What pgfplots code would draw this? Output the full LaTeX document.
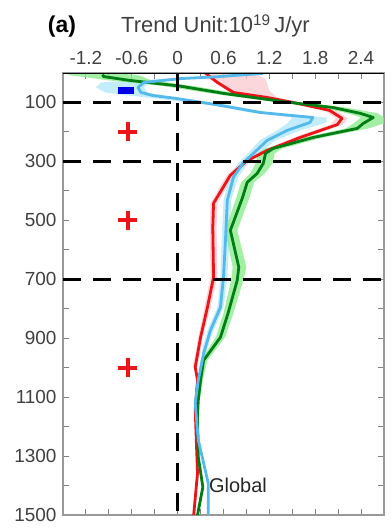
\documentclass[border=0pt]{standalone}
\usepackage{pgfplots}
\pgfplotsset{compat=1.18}
\usepackage{fontspec}
\setmainfont{Liberation Sans}
\definecolor{cgreen}{RGB}{0,125,20}
\definecolor{cred}{RGB}{235,20,25}
\definecolor{ccyan}{RGB}{85,185,235}
\definecolor{lgreen}{RGB}{140,235,140}
\definecolor{lpink}{RGB}{250,200,205}
\definecolor{lcyan}{RGB}{180,232,250}
\definecolor{cblue}{RGB}{0,0,230}
\begin{document}
\begin{tikzpicture}
\path[use as bounding box] (-63bp,-16bp) rectangle (329bp,515bp);
\begin{axis}[
  scale only axis, width=321bp, height=442bp,
  xmin=-1.5, xmax=2.7, ymin=0, ymax=1500, y dir=reverse,
  xtick={-1.2,-0.6,0,0.6,1.2,1.8,2.4},
  xticklabels={-1.2,-0.6,0,0.6,1.2,1.8,2.4},
  minor xtick={-1.5,-0.9,-0.3,0.3,0.9,1.5,2.1,2.7},
  xticklabel pos=upper,
  ytick={100,300,500,700,900,1100,1300,1500},
  yticklabels={100,300,500,700,900,1100,1300,1500},
  minor ytick={200,400,600,800,1000,1200,1400},
  tick align=inside,
  major tick length=6bp, minor tick length=6bp,
  tick style={gray, line width=1bp},
  axis line style={gray!80, line width=1.5bp},
  ticklabel style={font=\fontsize{19}{19}\selectfont, text=black!75},
  xticklabel style={yshift=5bp},
  yticklabel style={xshift=-3bp},
  clip mode=individual,
]
% bands
\addplot[draw=none, fill=lpink, fill opacity=0.75] coordinates {
(1.0,2) (1.15,20) (1.2,60) (1.3,83) (1.6,100) (2.08,127) (2.23,154) (2.16,175) (1.68,219) (1.24,263) (0.97,297) (0.74,347) (0.52,442) (0.51,524) (0.52,693) (0.43,795) (0.33,897) (0.26,998)
(0.2,998) (0.27,897) (0.35,795) (0.43,693) (0.42,524) (0.43,442) (0.64,347) (0.85,297) (1.1,263) (1.52,219) (2.0,175) (2.07,154) (1.92,127) (1.45,100) (1.1,83) (0.68,66) (0.48,32) (0.33,2)} -- cycle;
\addplot[draw=none, fill=lcyan, fill opacity=0.8] coordinates {
(1.2,1) (0.1,19) (-0.38,32) (-0.44,49) (-0.4,66) (-0.2,76) (0.08,86) (0.65,108) (1.2,134) (1.95,151) (1.95,168) (1.6,195) (1.28,229) (1.07,273) (0.92,307) (0.79,354) (0.7,432) (0.68,544) (0.65,693) (0.6,795) (0.47,873) (0.37,951)
(0.31,951) (0.39,873) (0.52,795) (0.56,693) (0.58,544) (0.6,432) (0.68,354) (0.79,307) (0.92,273) (1.07,229) (1.3,195) (1.45,168) (1.5,151) (0.95,134) (0.4,108) (-0.3,86) (-0.65,76) (-0.95,66) (-1.07,49) (-1.0,32) (-0.1,19) (1.0,1)} -- cycle;
\addplot[draw=none, fill=lgreen, fill opacity=0.8] coordinates {
(-0.7,3) (-0.5,8) (-0.35,25) (0.2,44) (0.8,70) (1.5,97) (2.2,117) (2.62,137) (2.7,151) (2.7,171) (2.5,188) (1.9,219) (1.37,256) (1.27,273) (1.24,307) (1.14,341) (1.0,371) (0.94,422) (0.78,534) (0.9,659) (0.86,703) (0.73,815) (0.62,897) (0.39,975) (0.33,1042) (0.29,1110)
(0.25,1110) (0.27,1042) (0.3,975) (0.5,897) (0.6,815) (0.7,703) (0.72,659) (0.62,534) (0.77,422) (0.83,371) (0.95,341) (1.02,307) (1.05,273) (1.15,256) (1.65,219) (2.2,188) (2.3,171) (2.4,151) (2.22,137) (1.9,117) (1.25,97) (0.45,70) (-0.2,44) (-0.9,25) (-1.4,8) (-1.45,3)} -- cycle;
% lines
\addplot[cred, line width=2.8bp, line join=round] coordinates {
(0.37,1) (0.4,8) (0.52,32) (0.73,66) (1.17,83) (1.51,100) (1.99,127) (2.15,154) (2.09,175) (1.60,219) (1.17,263) (0.91,297) (0.69,347) (0.47,442) (0.46,524) (0.47,693) (0.39,795) (0.30,897) (0.23,998) (0.26,1042) (0.23,1144) (0.26,1358) (0.21,1500)};
\addplot[cgreen, line width=2.8bp, line join=round] coordinates {
(-0.98,5) (-0.97,12) (-0.63,25) (0.02,44) (0.62,70) (1.38,97) (2.03,117) (2.39,137) (2.56,151) (2.43,171) (2.35,188) (1.77,219) (1.25,256) (1.15,273) (1.12,307) (1.04,341) (0.91,371) (0.85,422) (0.69,534) (0.80,659) (0.78,703) (0.66,815) (0.56,897) (0.34,975) (0.30,1042) (0.27,1110) (0.26,1168) (0.27,1303) (0.33,1405) (0.26,1500)};
\addplot[ccyan, line width=2.8bp, line join=round] coordinates {
(1.12,1) (0.5,13) (0.04,19) (-0.44,32) (-0.52,49) (-0.48,66) (-0.33,76) (-0.03,86) (0.52,108) (1.08,134) (1.77,151) (1.73,168) (1.43,195) (1.17,229) (0.99,273) (0.85,307) (0.73,354) (0.65,432) (0.63,544) (0.60,693) (0.56,795) (0.43,873) (0.34,951) (0.27,1042) (0.23,1120) (0.27,1246) (0.34,1324) (0.40,1392) (0.40,1500)};
% dashed reference lines
\addplot[black, line width=2.6bp, dash pattern=on 18bp off 12bp] coordinates {(-1.5,100) (2.7,100)};
\addplot[black, line width=2.6bp, dash pattern=on 18bp off 12bp] coordinates {(-1.5,300) (2.7,300)};
\addplot[black, line width=2.6bp, dash pattern=on 18bp off 12bp] coordinates {(-1.5,700) (2.7,700)};
\addplot[black, line width=2.6bp, dash pattern=on 18bp off 12bp] coordinates {(0,0) (0,1500)};
\addplot[black, line width=2.5bp] coordinates {(-1.5,0) (2.7,0)};
% significance markers
\addplot[only marks, mark=+, mark size=9.5bp, cred, mark options={line width=4bp}] coordinates {(-0.65,200) (-0.65,500) (-0.65,1000)};
\addplot[only marks, mark=-, mark size=8bp, cblue, mark options={line width=7bp}] coordinates {(-0.68,61)};
\node[anchor=base west, inner sep=0pt, font=\fontsize{20}{20}\selectfont, text=black!85] at (axis cs:0.41,1422) {Global};
\end{axis}
\node[anchor=base, inner sep=0pt, font=\fontsize{23}{23}\selectfont\bfseries] at (-1bp,482bp) {(a)};
\node[anchor=base west, inner sep=0pt, font=\fontsize{22}{22}\selectfont, text=black!75] at (58bp,482bp) {Trend Unit:10\textsuperscript{19}\,J/yr};
\end{tikzpicture}
\end{document}
